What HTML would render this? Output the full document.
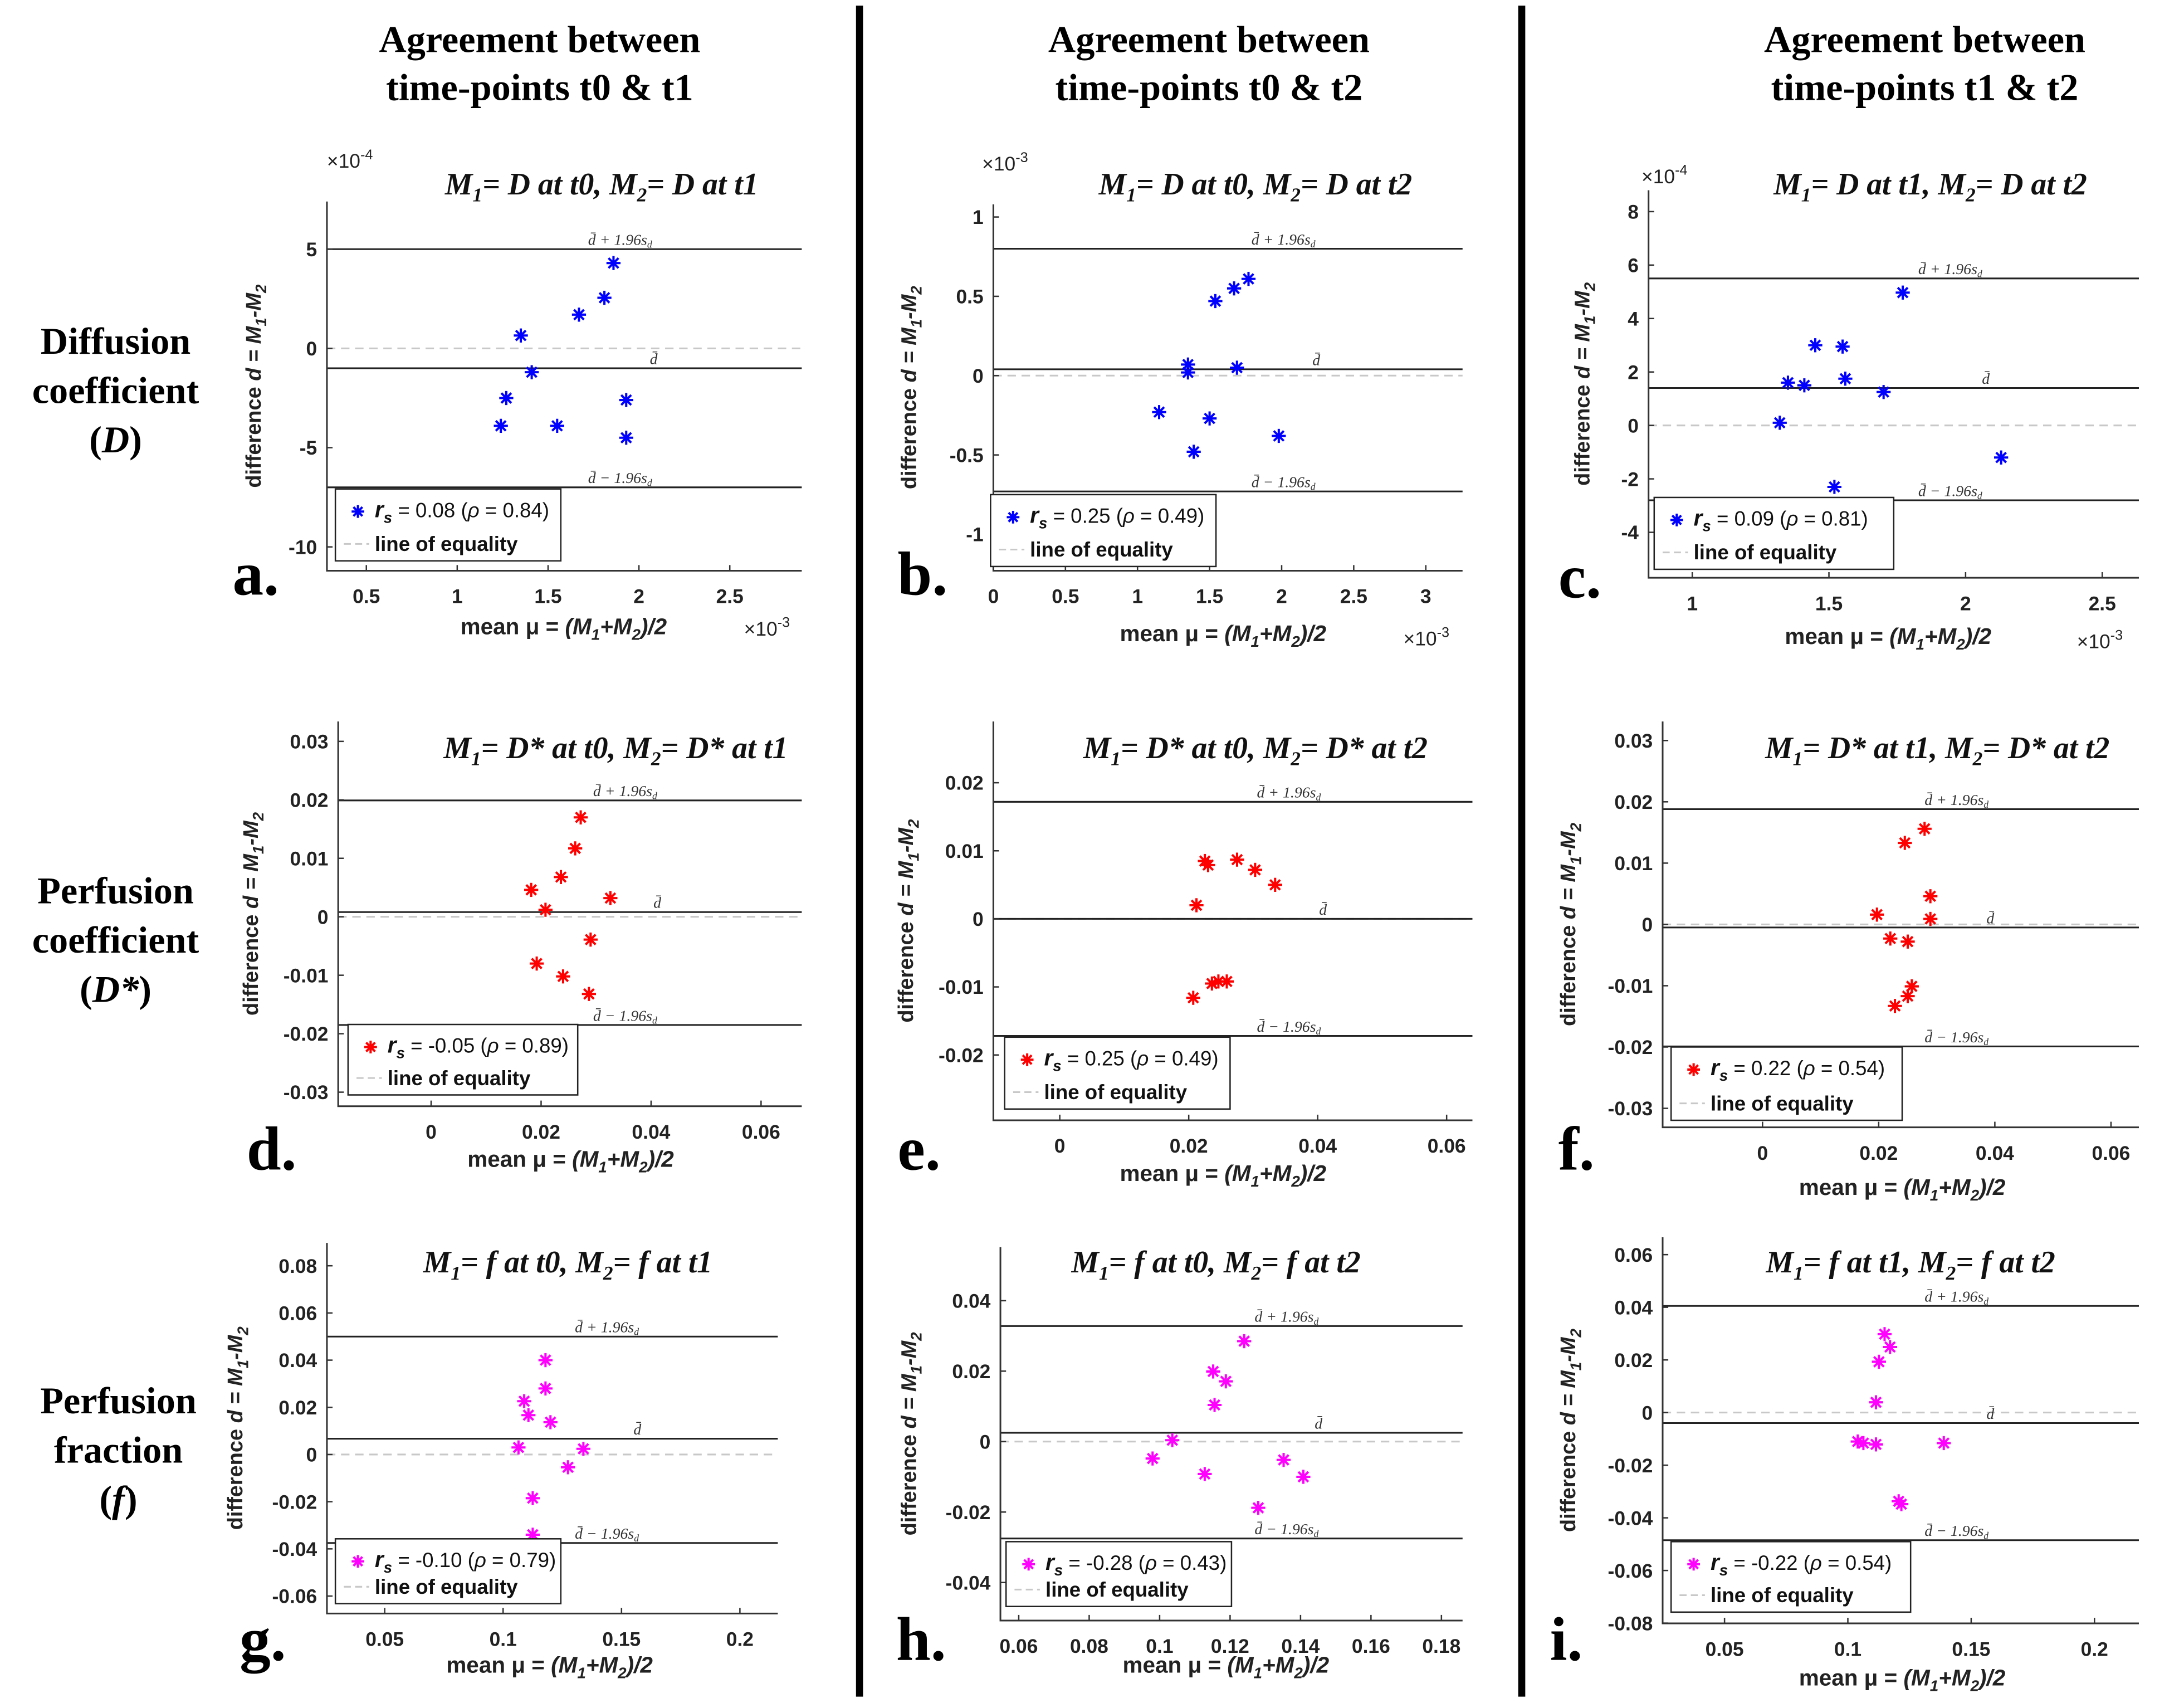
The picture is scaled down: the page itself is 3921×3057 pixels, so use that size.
<!DOCTYPE html>
<html><head><meta charset="utf-8"><style>
html,body{margin:0;padding:0;background:#fff;}
svg{display:block;}
.sans{font-family:"Liberation Sans",sans-serif;}
.serif{font-family:"Liberation Serif",serif;}
</style></head><body>
<svg id="fig" xmlns="http://www.w3.org/2000/svg" width="3921" height="3057" viewBox="0 0 1550 1208.5">
<rect x="0" y="0" width="1550" height="1208.5" fill="#fff"/>
<rect x="607.5" y="4" width="5" height="1200" fill="#000"/>
<rect x="1077.5" y="4" width="5" height="1200" fill="#000"/>
<g class="serif" font-weight="bold" font-size="27" text-anchor="middle">
<text x="383" y="37">Agreement between<tspan x="383" dy="34">time-points t0 &amp; t1</tspan></text>
<text x="858" y="37">Agreement between<tspan x="858" dy="34">time-points t0 &amp; t2</tspan></text>
<text x="1366" y="37">Agreement between<tspan x="1366" dy="34">time-points t1 &amp; t2</tspan></text>
<text x="82" y="251">Diffusion<tspan x="82" dy="35">coefficient</tspan><tspan x="82" dy="35">(<tspan font-style="italic">D</tspan>)</tspan></text>
<text x="82" y="641">Perfusion<tspan x="82" dy="35">coefficient</tspan><tspan x="82" dy="35">(<tspan font-style="italic">D*</tspan>)</tspan></text>
<text x="84" y="1003">Perfusion<tspan x="84" dy="35">fraction</tspan><tspan x="84" dy="35">(<tspan font-style="italic">f</tspan>)</tspan></text>
</g>
</svg>
<script>
// ---- data (x = mean, y = difference) ----
const aX=[1.24,1.27,1.35,1.41,1.55,1.67,1.81,1.86,1.93,1.93];
const aY=[-3.9,-2.5,0.65,-1.2,-3.9,1.7,2.55,4.3,-2.6,-4.5];
const aLines=[5.0,-1.0,-7.0];
const bX=[1.35,1.35,1.39,1.15,1.50,1.54,1.67,1.77,1.69,1.98];
const bY=[0.07,0.02,-0.48,-0.23,-0.27,0.47,0.55,0.61,0.05,-0.38];
const bLines=[0.80,0.04,-0.73];
const cX=[1.32,1.35,1.41,1.45,1.55,1.56,1.52,1.70,1.77,2.13];
const cY=[0.1,1.6,1.5,3.0,2.95,1.75,-2.3,1.25,4.97,-1.2];
const cLines=[5.5,1.4,-2.8];
const dX=[0.0272,0.0262,0.0236,0.0182,0.0326,0.0208,0.0290,0.0192,0.0240,0.0287];
const dY=[0.0170,0.0117,0.0068,0.0046,0.0032,0.0012,-0.0039,-0.0080,-0.0102,-0.0132];
const dLines=[0.0199,0.0008,-0.0185];
const eX=[0.0212,0.0225,0.0230,0.0275,0.0303,0.0334,0.0207,0.0236,0.0246,0.0259];
const eY=[0.0020,0.0085,0.0079,0.0087,0.0072,0.0050,-0.0116,-0.0095,-0.0092,-0.0092];
const eLines=[0.0172,0.0000,-0.0172];
const fX=[0.0279,0.0245,0.0289,0.0197,0.0289,0.0220,0.0250,0.0257,0.0250,0.0228];
const fY=[0.0156,0.0133,0.0046,0.0016,0.0009,-0.0023,-0.0028,-0.0101,-0.0117,-0.0133];
const fLines=[0.0188,-0.0005,-0.0199];
const gX=[0.1179,0.1179,0.1089,0.1107,0.1200,0.1065,0.1339,0.1274,0.1125,0.1125];
const gY=[0.040,0.028,0.0226,0.0167,0.0137,0.003,0.0024,-0.0054,-0.0185,-0.034];
const gLines=[0.050,0.0067,-0.0375];
const hX=[0.124,0.1152,0.1188,0.1156,0.1036,0.098,0.1128,0.1352,0.1408,0.128];
const hY=[0.0285,0.0199,0.0171,0.0104,0.0004,-0.0048,-0.0092,-0.0052,-0.010,-0.0188];
const hLines=[0.0328,0.0025,-0.0275];
const iX=[0.1149,0.1171,0.1126,0.1114,0.1040,0.1063,0.1114,0.1389,0.1206,0.1217];
const iY=[0.0298,0.0249,0.0193,0.0039,-0.0110,-0.0116,-0.0121,-0.0116,-0.0337,-0.0348];
const iLines=[0.0405,-0.004,-0.0485];
const legendR=["0.08","0.25","0.09","-0.05","0.25","0.22","-0.10","-0.28","-0.22"];
const legendP=["0.84","0.49","0.81","0.89","0.49","0.54","0.79","0.43","0.54"];
const aTicksY=[5,0,-5,-10], aTicksX=[0.5,1,1.5,2,2.5];
const bTicksY=[1,0.5,0,-0.5,-1], bTicksX=[0,0.5,1,1.5,2,2.5,3];
const cTicksY=[8,6,4,2,0,-2,-4], cTicksX=[1,1.5,2,2.5];
const dTicksY=[0.03,0.02,0.01,0,-0.01,-0.02,-0.03], dTicksX=[0,0.02,0.04,0.06];
const eTicksY=[0.02,0.01,0,-0.01,-0.02], eTicksX=[0,0.02,0.04,0.06];
const fTicksY=[0.03,0.02,0.01,0,-0.01,-0.02,-0.03], fTicksX=[0,0.02,0.04,0.06];
const gTicksY=[0.08,0.06,0.04,0.02,0,-0.02,-0.04,-0.06], gTicksX=[0.05,0.1,0.15,0.2];
const hTicksY=[0.04,0.02,0,-0.02,-0.04], hTicksX=[0.06,0.08,0.1,0.12,0.14,0.16,0.18];
const iTicksY=[0.06,0.04,0.02,0,-0.02,-0.04,-0.06,-0.08], iTicksX=[0.05,0.1,0.15,0.2];

const NS="http://www.w3.org/2000/svg";
const svg=document.getElementById('fig');
function mk(tag,attrs,parent){const e=document.createElementNS(NS,tag);for(const k in attrs)e.setAttribute(k,attrs[k]);(parent||svg).appendChild(e);return e;}

const panels=[
 {id:'a',X:aX,Y:aY,L:aLines,tx:aTicksX,ty:aTicksY,box:[232,569,143,405],xd:[0.283,2.896],yd:[7.4,-11.2],col:'#0000ff',param:'D',t1:'t0',t2:'t1',sub:[427,138],ylx:185,xl:[400,450],leg:[238,347,160,51],let:[165,422],e1:[232,119,'-4'],e2:[528,451,'-3']},
 {id:'b',X:bX,Y:bY,L:bLines,tx:bTicksX,ty:bTicksY,box:[705,1038,145,405],xd:[0,3.255],yd:[1.08,-1.23],col:'#0000ff',param:'D',t1:'t0',t2:'t2',sub:[891,138],ylx:650,xl:[868,455],leg:[703,351,160,51],let:[637,422],e1:[697,121,'-3'],e2:[996,458,'-3']},
 {id:'c',X:cX,Y:cY,L:cLines,tx:cTicksX,ty:cTicksY,box:[1170,1518,135,410],xd:[0.84,2.634],yd:[8.8,-5.7],col:'#0000ff',param:'D',t1:'t1',t2:'t2',sub:[1370,138],ylx:1128,xl:[1340,457],leg:[1174,353,170,51],let:[1106,424],e1:[1165,130,'-4'],e2:[1474,460,'-3']},
 {id:'d',X:dX,Y:dY,L:dLines,tx:dTicksX,ty:dTicksY,box:[240,569,512,785],xd:[-0.0169,0.0674],yd:[0.0334,-0.0324],col:'#ff0000',param:'D*',t1:'t0',t2:'t1',sub:[437,538],ylx:183,xl:[405,828],leg:[247,727,163,50],let:[175,830]},
 {id:'e',X:eX,Y:eY,L:eLines,tx:eTicksX,ty:eTicksY,box:[705,1045,512,795],xd:[-0.0103,0.0640],yd:[0.029,-0.0296],col:'#ff0000',param:'D*',t1:'t0',t2:'t2',sub:[891,538],ylx:648,xl:[868,838],leg:[713,736,160,51],let:[637,830]},
 {id:'f',X:fX,Y:fY,L:fLines,tx:fTicksX,ty:fTicksY,box:[1180,1518,512,800],xd:[-0.0172,0.0648],yd:[0.0331,-0.0331],col:'#ff0000',param:'D*',t1:'t1',t2:'t2',sub:[1375,538],ylx:1118,xl:[1350,848],leg:[1186,743,164,52],let:[1106,830]},
 {id:'g',X:gX,Y:gY,L:gLines,tx:gTicksX,ty:gTicksY,box:[232,552,882,1145],xd:[0.0256,0.216],yd:[0.0897,-0.0674],col:'#ff00ff',param:'f',t1:'t0',t2:'t1',sub:[403,903],ylx:172,xl:[390,1187],leg:[238,1092,160,46],let:[170,1178]},
 {id:'h',X:hX,Y:hY,L:hLines,tx:hTicksX,ty:hTicksY,box:[710,1038,885,1150],xd:[0.0548,0.186],yd:[0.0552,-0.0508],col:'#ff00ff',param:'f',t1:'t0',t2:'t2',sub:[863,903],ylx:650,xl:[870,1187],leg:[714,1094,160,46],let:[636,1178]},
 {id:'i',X:iX,Y:iY,L:iLines,tx:iTicksX,ty:iTicksY,box:[1180,1518,878,1152],xd:[0.0249,0.218],yd:[0.0666,-0.0801],col:'#ff00ff',param:'f',t1:'t1',t2:'t2',sub:[1356,903],ylx:1118,xl:[1350,1196],leg:[1186,1094,170,50],let:[1100,1178]}
];

function fmt(v){return String(v);}
function star(g,cx,cy,col,r){
  for(let k=0;k<4;k++){const a=k*Math.PI/4;
    mk('line',{x1:cx-r*Math.cos(a),y1:cy-r*Math.sin(a),x2:cx+r*Math.cos(a),y2:cy+r*Math.sin(a),stroke:col,'stroke-width':1.6},g);}
}

panels.forEach((p,pi)=>{
  const [L,R,T,B]=p.box;
  const sx=v=>L+(v-p.xd[0])/(p.xd[1]-p.xd[0])*(R-L);
  const sy=v=>T+(v-p.yd[0])/(p.yd[1]-p.yd[0])*(B-T);
  const g=mk('g',{});
  
  
  const eq=mk('line',{x1:L,x2:R,y1:sy(0),y2:sy(0),stroke:'#c8c8c8','stroke-width':1.2,'stroke-dasharray':'6,4'},g);
  
  
  const lnames=['upper-limit-line','mean-difference-line','lower-limit-line'];
  const lfrac=[0.55,0.68,0.55];
  p.L.forEach((v,k)=>{
    const ln=mk('line',{x1:L,x2:R,y1:sy(v),y2:sy(v),stroke:'#222','stroke-width':1.2},g);
    
    
    const lx=L+(R-L)*lfrac[k];
    const t=mk('text',{x:lx,y:sy(v)-3,'font-size':11,fill:'#333',class:'serif','font-style':'italic'},g);
    
    
    t.innerHTML = k===1 ? 'd̄' : (k===0?'d̄ + 1.96s<tspan font-size="7" dy="2">d</tspan>':'d̄ − 1.96s<tspan font-size="7" dy="2">d</tspan>');
  });
  const ax=mk('path',{d:`M${L},${T} L${L},${B} L${R},${B}`,fill:'none',stroke:'#333','stroke-width':1.2},g);
  
  
  p.ty.forEach(v=>{
    const y=sy(v);
    mk('line',{x1:L,x2:L+4,y1:y,y2:y,stroke:'#333','stroke-width':1},g);
    const t=mk('text',{x:L-7,y:y+5,'text-anchor':'end','font-size':14,'font-weight':'bold',fill:'#222',class:'sans'},g);
    
    
    t.textContent=fmt(v);
  });
  p.tx.forEach(v=>{
    const x=sx(v);
    mk('line',{x1:x,x2:x,y1:B,y2:B-4,stroke:'#333','stroke-width':1},g);
    const t=mk('text',{x:x,y:B+23,'text-anchor':'middle','font-size':14,'font-weight':'bold',fill:'#222',class:'sans'},g);
    
    
    t.textContent=fmt(v);
  });
  if(p.e1){
    const t=mk('text',{x:p.e1[0],y:p.e1[1],'font-size':14,fill:'#222',class:'sans'},g);
    
    
    t.innerHTML='×10<tspan font-size="10" dy="-6">'+p.e1[2]+'</tspan>';
    const t2=mk('text',{x:p.e2[0],y:p.e2[1],'font-size':14,fill:'#222',class:'sans'},g);
    
    
    t2.innerHTML='×10<tspan font-size="10" dy="-6">'+p.e2[2]+'</tspan>';
  }
  p.X.forEach((x,k)=>{
    const pg=mk('g',{},g);
    
    
    star(pg,sx(x),sy(p.Y[k]),p.col,5);
  });
  const st=mk('text',{x:p.sub[0],y:p.sub[1],'text-anchor':'middle','font-size':22,'font-weight':'bold','font-style':'italic',class:'serif',fill:'#111'},g);
  
  
  st.innerHTML=`M<tspan font-size="14" dy="5">1</tspan><tspan dy="-5">= ${p.param} at ${p.t1},  M</tspan><tspan font-size="14" dy="5">2</tspan><tspan dy="-5">= ${p.param} at ${p.t2}</tspan>`;
  const cy=(T+B)/2;
  const yl=mk('text',{x:p.ylx,y:cy,'text-anchor':'middle','font-size':15,'font-weight':'bold',class:'sans',fill:'#222',transform:`rotate(-90 ${p.ylx} ${cy})`},g);
  
  
  yl.innerHTML='difference <tspan font-style="italic">d = M</tspan><tspan font-size="11" dy="4" font-style="italic">1</tspan><tspan dy="-4" font-style="italic">-M</tspan><tspan font-size="11" dy="4" font-style="italic">2</tspan>';
  const xl=mk('text',{x:p.xl[0],y:p.xl[1],'text-anchor':'middle','font-size':16,'font-weight':'bold',class:'sans',fill:'#222'},g);
  
  
  xl.innerHTML='mean  μ = <tspan font-style="italic">(M</tspan><tspan font-size="11" dy="4" font-style="italic">1</tspan><tspan dy="-4" font-style="italic">+M</tspan><tspan font-size="11" dy="4" font-style="italic">2</tspan><tspan dy="-4" font-style="italic">)/2</tspan>';
  const [lx,ly,lw,lh]=p.leg;
  const lg=mk('g',{},g);
  
  
  mk('rect',{x:lx,y:ly,width:lw,height:lh,fill:'#fff',stroke:'#222','stroke-width':1},lg);
  star(lg,lx+16,ly+16,p.col,4.5);
  const t1=mk('text',{x:lx+28,y:ly+20,'font-size':14.5,class:'sans',fill:'#111'},lg);
  
  
  t1.innerHTML=`<tspan font-style="italic" font-weight="bold" font-size="16">r</tspan><tspan font-size="11" dy="4" font-style="italic" font-weight="bold">s</tspan><tspan dy="-4"> = ${legendR[pi]} (</tspan><tspan font-style="italic">ρ</tspan> = ${legendP[pi]})`;
  mk('line',{x1:lx+6,x2:lx+24,y1:ly+lh-12,y2:ly+lh-12,stroke:'#c8c8c8','stroke-width':1.2,'stroke-dasharray':'5,3'},lg);
  const t2=mk('text',{x:lx+28,y:ly+lh-7,'font-size':14.5,'font-weight':'bold',class:'sans',fill:'#111'},lg);
  
  
  t2.textContent='line of equality';
  const lt=mk('text',{x:p.let[0],y:p.let[1],'font-size':44,'font-weight':'bold',class:'serif',fill:'#000'},g);
  
  
  lt.textContent=p.id+'.';
});
</script>
</body></html>
